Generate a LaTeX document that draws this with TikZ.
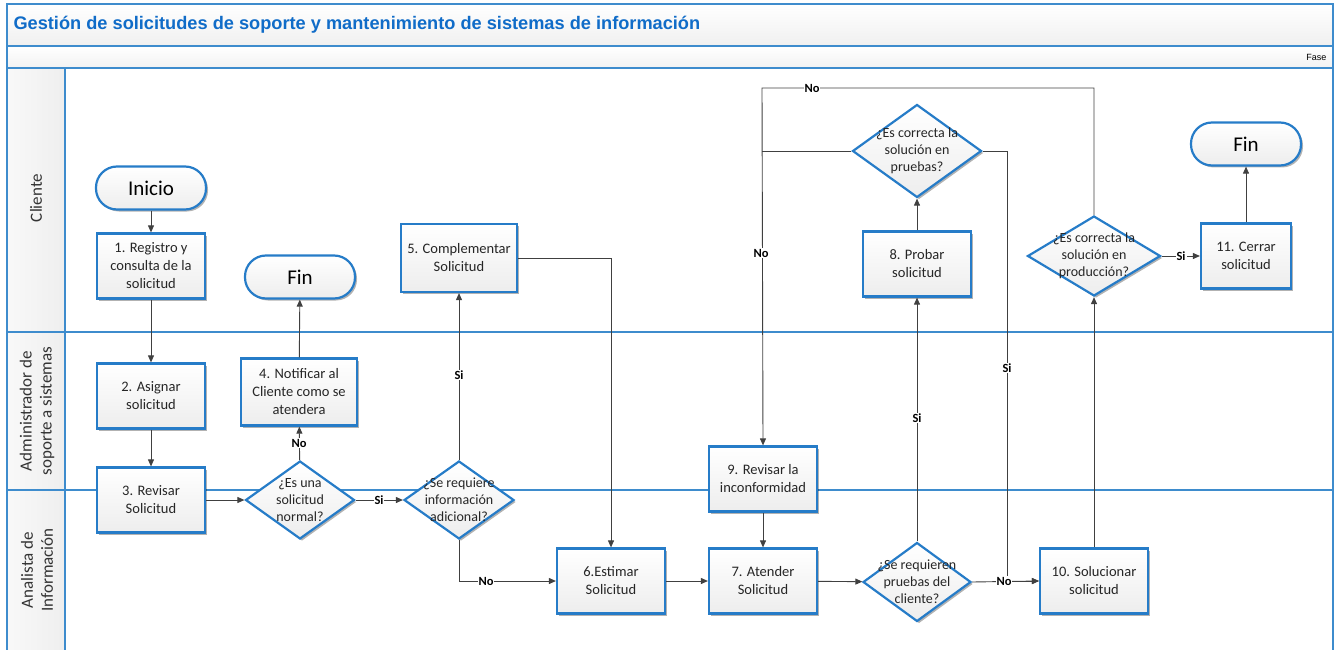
\documentclass[tikz,border=0pt]{standalone}
\usepackage{fontspec}
\setmainfont{Carlito}
\newfontfamily\titlefont{Liberation Sans}
\usetikzlibrary{arrows.meta,shapes.geometric,shadows}
\definecolor{nblue}{RGB}{38,124,200}
\definecolor{lblue}{RGB}{62,140,205}
\definecolor{tblue}{RGB}{16,108,200}
\definecolor{lgray}{RGB}{64,64,64}
\begin{document}
\begin{tikzpicture}[x=1pt,y=-1pt,
  shad/.style={drop shadow={shadow xshift=2pt,shadow yshift=-2pt,opacity=0.3,fill=black}},
  proc/.style={shad,draw=nblue,line width=2.2pt,top color=white,bottom color=gray!14,
    minimum width=108pt,minimum height=65pt,align=center,inner sep=2pt,text=black!85,
    font=\fontsize{14.5}{18}\selectfont},
  term/.style={shad,draw=nblue,line width=2.2pt,top color=white,bottom color=gray!14,
    rounded corners=21pt,minimum width=110pt,minimum height=43pt,text=black,
    font=\fontsize{21}{24}\selectfont},
  dec/.style={shad,diamond,draw=nblue,line width=2.2pt,top color=white,bottom color=gray!14,inner sep=0pt},
  dtxt/.style={align=center,text=black!85,font=\fontsize{14}{17}\selectfont,inner sep=0pt},
  conn/.style={draw=lgray,line width=0.9pt,-{Triangle[length=7pt,width=6pt]}},
  plain/.style={draw=lgray,line width=0.9pt},
  lab/.style={font=\fontsize{12.5}{13}\selectfont\bfseries,fill=white,inner sep=1pt,text=black},
  lane/.style={draw=lblue,line width=1.2pt},
  lanetxt/.style={rotate=90,align=center,text=black!80,font=\fontsize{17}{20}\selectfont}
]
\useasboundingbox (0,0) rectangle (1336,650);
% frame and bands
\fill[top color=white,bottom color=gray!12] (7,4) rectangle (1333,46);
\fill[top color=white,bottom color=gray!10] (7,46) rectangle (1333,68);
\fill[left color=gray!5,right color=gray!13] (7,68) rectangle (65,650);
\draw[lane] (7,46) -- (1333,46);
\draw[lane] (7,68) -- (1333,68);
\draw[lane] (7,332) -- (1333,332);
\draw[lane] (7,490) -- (1333,490);
\draw[lane] (65,68) -- (65,650);
\draw[lane] (7,650) -- (7,4) -- (1333,4) -- (1333,650);
\node[anchor=west,text=tblue,font=\titlefont\bfseries\fontsize{18.2}{20}\selectfont] (title) at (10,25)
  {Gestión de solicitudes de soporte y mantenimiento de sistemas de información};
\node[anchor=east,font=\titlefont\fontsize{9}{10}\selectfont] (fase) at (1330,57) {Fase};
\node[lanetxt] (l1) at (36,198) {Cliente};
\node[lanetxt] (l2) at (37,411) {Administrador de\\soporte a sistemas};
\node[lanetxt] (l3) at (37,570) {Analista de\\Información};
% nodes
\node[term] (ini) at (151,188) {Inicio};
\node[proc] (n1) at (151,266) {1. Registro y\\consulta de la\\solicitud};
\node[proc] (n2) at (151,396) {2. Asignar\\solicitud};
\node[proc] (n3) at (151,500) {3. Revisar\\Solicitud};
\node[dec,minimum width=109pt,minimum height=78pt,label={[dtxt]center:{¿Es una\\solicitud\\normal?}}] (d1) at (300,500) {};
\node[proc,minimum width=116pt,minimum height=67pt] (n4) at (299,392) {4. Notificar al\\Cliente como se\\atendera};
\node[term] (fin1) at (300,277) {Fin};
\node[dec,minimum width=110pt,minimum height=78pt,label={[dtxt]center:{¿Se requiere\\información\\adicional?}}] (d2) at (459,500) {};
\node[proc,minimum width=116pt,minimum height=68pt] (n5) at (459,258) {5. Complementar\\Solicitud};
\node[proc] (n6) at (611,581) {6.Estimar\\Solicitud};
\node[proc] (n7) at (763,581) {7. Atender\\Solicitud};
\node[proc] (n9) at (763,479) {9. Revisar la\\inconformidad};
\node[dec,minimum width=108pt,minimum height=79pt,label={[dtxt]center:{¿Se requieren\\pruebas del\\cliente?}}] (d3) at (917,582) {};
\node[proc] (n8) at (917,264) {8. Probar\\solicitud};
\node[dec,minimum width=129pt,minimum height=93pt,label={[dtxt]center:{¿Es correcta la\\solución en\\pruebas?}}] (d4) at (917,151) {};
\node[proc] (n10) at (1094,581) {10. Solucionar\\solicitud};
\node[dec,minimum width=133pt,minimum height=80pt,label={[dtxt]center:{¿Es correcta la\\solución en\\producción?}}] (d5) at (1094,256) {};
\node[proc,minimum width=90pt,minimum height=65pt] (n11) at (1246,256) {11. Cerrar\\solicitud};
\node[term] (fin3) at (1246,144) {Fin};
% helper coordinates
\coordinate (c1) at (459,581);
\coordinate (c2) at (611,258);
\coordinate (tl) at (762,88);
\coordinate (j1) at (762,151);
\coordinate (c3) at (1007,151);
\coordinate (c4) at (1007,581);
% connectors
\draw[conn] (ini) -- (n1);
\draw[conn] (n1) -- (n2);
\draw[conn] (n2) -- (n3);
\draw[conn] (n3) -- (d1);
\draw[conn] (d1) -- (n4);
\node[lab] (lno1) at (299,443) {No};
\draw[conn] (n4) -- (fin1);
\draw[conn] (d1) -- (d2);
\node[lab] (lsi1) at (379,500) {Si};
\draw[conn] (d2) -- (n5);
\node[lab] (lsi2) at (459,375) {Si};
\draw[conn] (d2.south) -- (c1) -- (n6.west);
\node[lab] (lno2) at (486,581) {No};
\draw[conn] (n5.east) -- (c2) -- (n6.north);
\draw[conn] (n6) -- (n7);
\draw[conn] (n7) -- (d3);
\draw[conn] (n9) -- (n7);
\draw[conn] (d3) -- (n8);
\node[lab] (lsi3) at (917,418) {Si};
\draw[conn] (n8) -- (d4);
\draw[plain] (d4.west) -- (j1);
\draw[conn] (d5.north) |- (tl) -- (n9.north);
\node[lab] (lno3) at (812,88) {No};
\node[lab] (lno4) at (761,253) {No};
\draw[conn] (d4.east) -- (c3) -- (c4) -- (n10.west);
\node[lab] (lsi4) at (1007,368) {Si};
\draw[conn] (d3.east) -- (n10.west);
\node[lab] (lno5) at (1004,581) {No};
\draw[conn] (n10) -- (d5);
\draw[conn] (d5) -- (n11);
\node[lab] (lsi5) at (1181,256) {Si};
\draw[conn] (n11) -- (fin3);
\end{tikzpicture}
\end{document}
